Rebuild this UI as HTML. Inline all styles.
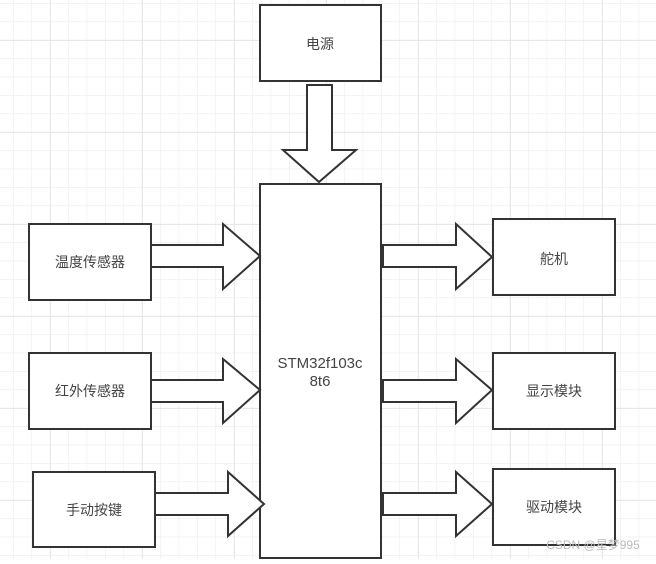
<!DOCTYPE html>
<html><head><meta charset="utf-8"><style>
html,body{margin:0;padding:0;}
body{width:656px;height:559px;overflow:hidden;background:#fff;font-family:"Liberation Sans","Noto Sans CJK SC",sans-serif;}
</style></head><body>
<svg width="656" height="559" xmlns="http://www.w3.org/2000/svg">
<defs>
<pattern id="g" x="13" y="3" width="18.4" height="18.4" patternUnits="userSpaceOnUse">
<path d="M0 0 V18.4 M0 0 H18.4" stroke="#ececec" stroke-width="1.2" fill="none"/>
</pattern>
<pattern id="G" x="50" y="40" width="92" height="92" patternUnits="userSpaceOnUse">
<path d="M0 0 V92 M0 0 H92" stroke="#e2e2e2" stroke-width="1.5" fill="none"/>
</pattern>
</defs>
<rect width="656" height="559" fill="url(#g)"/>
<rect width="656" height="559" fill="url(#G)"/>
<g fill="#fff" stroke="#333" stroke-width="2">
<rect x="260" y="5" width="121" height="76"/>
<rect x="260" y="184" width="121" height="374"/>
<rect x="29" y="224" width="122" height="76"/>
<rect x="29" y="353" width="122" height="76"/>
<rect x="33" y="472" width="122" height="75"/>
<rect x="493" y="219" width="122" height="76"/>
<rect x="493" y="353" width="122" height="76"/>
<rect x="493" y="469" width="122" height="76"/>
<polygon points="307,85 332,85 332,150 356,150 319,182 283,150 307,150"/>
<polygon points="151,245 223,245 223,224 260,256 223,289 223,267 151,267"/>
<polygon points="151,380 223,380 223,359 260,390 223,423 223,402 151,402"/>
<polygon points="155,493 228,493 228,472 264,504 228,536 228,515 155,515"/>
<polygon points="383,245 456,245 456,224 492,257 456,289 456,267 383,267"/>
<polygon points="383,380 456,380 456,359 492,390 456,423 456,402 383,402"/>
<polygon points="383,493 456,493 456,472 492,504 456,536 456,515 383,515"/>
</g>
<g fill="#444" font-size="14" text-anchor="middle" font-family="Liberation Sans,Noto Sans CJK SC,sans-serif">
<text x="320" y="49">电源</text>
<text x="90" y="267">温度传感器</text>
<text x="90" y="396">红外传感器</text>
<text x="94" y="515">手动按键</text>
<text x="554" y="264">舵机</text>
<text x="554" y="396">显示模块</text>
<text x="554" y="512">驱动模块</text>
<text x="320" y="368" font-size="15">STM32f103c</text>
<text x="320" y="386" font-size="15">8t6</text>
</g>
<text x="593" y="549" fill="#bbb" font-size="12" text-anchor="middle" font-family="Liberation Sans,Noto Sans CJK SC,sans-serif">CSDN @星梦995</text>
</svg>
</body></html>
